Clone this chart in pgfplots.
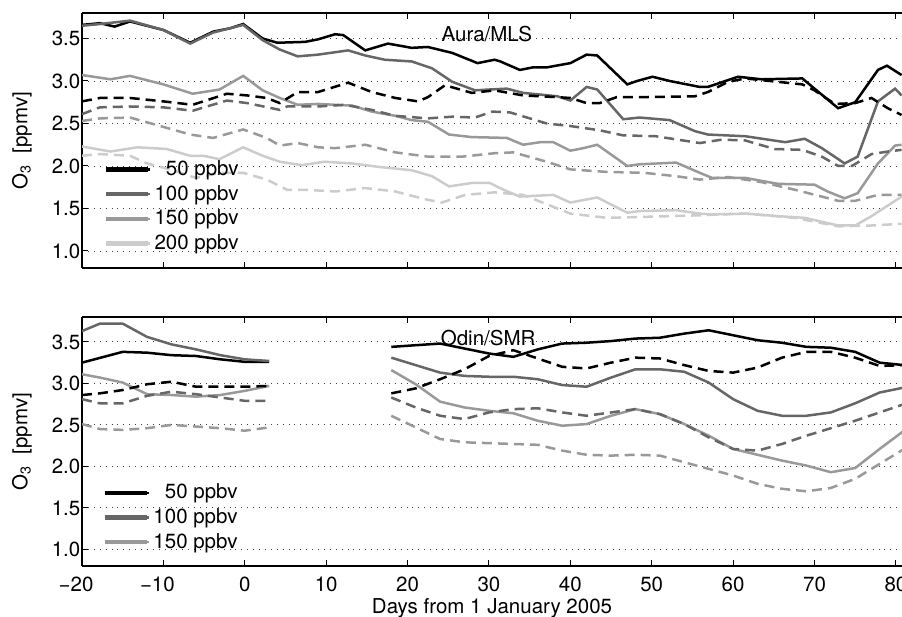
\documentclass[border=0pt]{standalone}
\usepackage{pgfplots}
\pgfplotsset{compat=1.18}
\usepackage{fontspec}
\setmainfont{TeX Gyre Heros}
\definecolor{gA}{gray}{0.4}
\definecolor{gB}{gray}{0.6}
\definecolor{gC}{gray}{0.8}
\newcommand{\ff}{\fontsize{20.5pt}{24pt}\selectfont}
\begin{document}
\ff
\begin{tikzpicture}[font=\ff]
\useasboundingbox (0,0) rectangle (902pt,617pt);
\pgfplotsset{
  panel/.style={
    scale only axis, width=820pt,
    xmin=-20, xmax=80.75, ymin=0.8, ymax=3.8,
    axis x line*=box, axis y line*=left,
    axis line style={line width=1.2pt},
    tick align=inside, major tick length=6pt,
    tick style={line width=1pt, black},
    xtick={-20,-10,...,80},
    ytick={1,1.5,2,2.5,3,3.5},
    yticklabels={\ff 1.0,\ff 1.5,\ff 2.0,\ff 2.5,\ff 3.0,\ff 3.5},
    ymajorgrids, grid style={black!75, line width=0.9pt, dash pattern=on 0.9pt off 5pt},
    every tick label/.style={font=\ff},
    yticklabel style={inner sep=0pt, xshift=-1.5pt},
    xticklabel style={inner sep=0pt, yshift=-11pt},
    every axis y label/.style={at={(axis description cs:0,0.5)}, xshift=-60pt, rotate=90, anchor=center, font=\ff},
    every axis x label/.style={at={(axis description cs:0.5,0)}, anchor=north, yshift=-25pt, font=\ff},
    legend image code/.code={\draw[##1] (0pt,0pt) -- (43pt,0pt); \path[use as bounding box] (0pt,-1pt) rectangle (40pt,1pt);},
    legend cell align=left,
    legend style={draw=none, fill=none, anchor=north west, inner sep=0pt, nodes={inner sep=3.3pt, font=\ff}, row sep=0pt, font=\ff},
    every axis plot/.append style={line width=2.5pt},
  },
  d/.style={dash pattern=on 10pt off 6pt},
}
% ---------------- top panel: Aura/MLS ----------------
\begin{axis}[panel, at={(82pt,349pt)}, anchor=south west, height=255pt,
  xticklabels={}, ylabel={O\textsubscript{3}\ \ [ppmv]},
  legend style={at={(axis description cs:0.0287,0.435)}}]
\addplot[black] coordinates {(-20,3.66) (-17.8,3.68) (-16,3.64) (-14.1,3.70) (-10,3.60) (-6.7,3.45) (-3.9,3.58) (-1.8,3.62) (-0.2,3.67) (2.2,3.50) (4,3.45) (7.4,3.46) (9,3.49) (11.1,3.55) (12.1,3.54) (14.8,3.36) (17.6,3.44) (20.5,3.39) (22.5,3.40) (25.5,3.33) (28.6,3.21) (30.7,3.25) (31.4,3.23) (33.8,3.13) (35.4,3.16) (37.1,3.16) (40,3.21) (42,3.31) (43.3,3.30) (47,2.96) (48.2,3.00) (50.1,3.05) (52.2,3.00) (55.9,2.93) (56.9,2.93) (60.6,3.05) (63.5,3.02) (68.5,3.03) (70,2.91) (72.9,2.68) (75,2.75) (77.8,3.13) (78.9,3.18) (80.7,3.07)};
\addlegendentry{\ff\phantom{1}50 ppbv}
\addplot[gA] coordinates {(-20,3.65) (-17.8,3.67) (-14.1,3.71) (-10,3.60) (-6.7,3.44) (-3.9,3.57) (-0.2,3.66) (2.2,3.48) (4.3,3.37) (6.5,3.29) (9,3.31) (12.7,3.36) (14.8,3.30) (17.2,3.25) (20.5,3.23) (23,3.15) (25.5,2.99) (28.3,2.89) (30.1,2.90) (32.2,2.91) (34.2,2.86) (38.4,2.82) (40,2.77) (42,2.93) (43.3,2.90) (46.5,2.55) (48.5,2.57) (52.2,2.54) (55.3,2.41) (56.9,2.37) (61.5,2.35) (66.4,2.28) (68.8,2.32) (70.9,2.21) (73.7,2.03) (75.3,2.11) (77.8,2.76) (79.9,2.91) (80.7,2.83)};
\addlegendentry{\ff 100 ppbv}
\addplot[gB] coordinates {(-20,3.07) (-16.5,3.02) (-14.1,3.06) (-10,2.96) (-6.4,2.85) (-3.1,2.90) (-0.2,3.06) (2.2,2.89) (4.3,2.80) (6.5,2.72) (9,2.73) (13.2,2.71) (15.6,2.64) (18.5,2.59) (20.5,2.54) (22.5,2.52) (25.1,2.37) (27.9,2.34) (32.2,2.33) (34.2,2.25) (36.3,2.28) (37.9,2.28) (40,2.18) (41.6,2.21) (43.3,2.25) (47,2.00) (48.5,2.02) (53,2.04) (55.9,1.92) (57.4,1.86) (61.5,1.86) (65.5,1.79) (70,1.78) (71.6,1.70) (73.7,1.62) (75.3,1.68) (77.8,2.03) (79.9,2.24) (80.7,2.25)};
\addlegendentry{\ff 150 ppbv}
\addplot[gC] coordinates {(-20,2.23) (-16.5,2.17) (-13.2,2.22) (-9.6,2.20) (-6.7,2.12) (-5.1,2.12) (-3.1,2.08) (-0.2,2.22) (2.2,2.12) (4.3,2.05) (7,2.01) (9.8,2.05) (13.2,2.03) (16.4,1.99) (20.5,1.95) (23,1.88) (25.1,1.76) (27.9,1.80) (30.1,1.80) (31.8,1.72) (33.8,1.64) (37.9,1.66) (40,1.57) (43.3,1.63) (47,1.45) (48.5,1.47) (53,1.48) (55.9,1.44) (57.4,1.43) (61.5,1.44) (65.5,1.41) (68.8,1.39) (72.9,1.30) (75,1.30) (77,1.41) (80.7,1.64)};
\addlegendentry{\ff 200 ppbv}
\addplot[black, d, forget plot] coordinates {(-20,2.76) (-17.8,2.80) (-14.1,2.80) (-10,2.76) (-6.4,2.72) (-2.2,2.85) (0.3,2.83) (2.7,2.80) (4.3,2.74) (6.5,2.87) (9,2.87) (12.7,2.98) (15.6,2.87) (18.5,2.80) (21.3,2.76) (22.5,2.81) (24.6,2.95) (27.9,2.86) (30.7,2.89) (34.2,2.83) (38.4,2.81) (40,2.80) (42,2.74) (43.6,2.74) (45.7,2.81) (48.5,2.81) (55.3,2.82) (56.9,2.87) (59.4,2.99) (61.5,3.03) (65.5,2.99) (68.5,2.96) (70,2.89) (72.5,2.73) (75,2.74) (77,2.80) (79,2.68) (80.7,2.60)};
\addplot[gA, d, forget plot] coordinates {(-20,2.61) (-17.8,2.69) (-14.1,2.70) (-10,2.69) (-6.4,2.65) (-2.2,2.77) (0.3,2.74) (4.3,2.66) (5.2,2.70) (9,2.70) (12.3,2.72) (15.6,2.66) (18.5,2.59) (22.5,2.56) (25.5,2.58) (28.3,2.57) (30.4,2.64) (32.6,2.63) (37.1,2.50) (40,2.47) (43.6,2.42) (46.5,2.36) (50.5,2.35) (55.9,2.27) (58.6,2.31) (61.5,2.30) (65.1,2.20) (68.5,2.19) (70.9,2.11) (72.9,2.00) (74.6,2.00) (77,2.14) (79,2.17) (80.7,2.19)};
\addplot[gB, d, forget plot] coordinates {(-20,2.53) (-17.8,2.56) (-14.1,2.57) (-10,2.46) (-6.7,2.37) (-3.9,2.33) (-0.2,2.43) (2.7,2.33) (4.3,2.24) (6.5,2.27) (9,2.22) (11.1,2.21) (14.8,2.25) (18.5,2.16) (22.5,2.11) (26.7,2.11) (30.7,2.15) (33,2.16) (37.1,2.05) (40,1.96) (44.5,1.93) (49,1.92) (53,1.88) (55.9,1.84) (59.4,1.87) (63.5,1.81) (67.6,1.72) (70.9,1.64) (72.9,1.59) (75,1.59) (77.8,1.66) (80.7,1.66)};
\addplot[gC, d, forget plot] coordinates {(-20,2.12) (-17.8,2.14) (-14.1,2.12) (-12,2.03) (-9.2,1.96) (-6,1.86) (-3.1,1.92) (-0.2,1.92) (2.7,1.84) (5.2,1.72) (7.4,1.72) (11.1,1.70) (14.8,1.74) (18.5,1.70) (22.1,1.61) (24.2,1.57) (27.1,1.66) (30.7,1.69) (34.2,1.66) (40,1.44) (44.5,1.39) (48.5,1.40) (55.9,1.42) (61.5,1.44) (67.6,1.39) (72.9,1.29) (77,1.30) (80.7,1.32)};
\node[anchor=base, font=\ff] at (axis cs:29.75,3.46) {Aura/MLS};
\end{axis}
% ---------------- bottom panel: Odin/SMR ----------------
\begin{axis}[panel, at={(82pt,51pt)}, anchor=south west, height=249pt,
  xticklabels={\ff\llap{−}20,\ff\llap{−}10,\ff 0,\ff 10,\ff 20,\ff 30,\ff 40,\ff 50,\ff 60,\ff 70,\ff 80},
  xlabel={Days from 1 January 2005},
  ylabel={O\textsubscript{3}\ \ [ppmv]},
  legend style={at={(axis description cs:0.0274,0.344)}}]
\addplot[black] coordinates {(-20,3.25) (-15,3.38) (-12,3.37) (-9,3.34) (-6,3.33) (-3,3.29) (0,3.26) (3,3.26)};
\addlegendentry{\ff\phantom{1}50 ppbv}
\addplot[gA] coordinates {(-20,3.63) (-17.8,3.72) (-15,3.72) (-12,3.56) (-9,3.47) (-6,3.41) (-3,3.34) (0,3.29) (3,3.27)};
\addlegendentry{\ff 100 ppbv}
\addplot[gB] coordinates {(-20,3.11) (-17.8,3.07) (-15,3.01) (-12,2.87) (-9,2.86) (-6,2.84) (-3,2.86) (0,2.91) (3,2.97)};
\addlegendentry{\ff 150 ppbv}
\addplot[black, forget plot] coordinates {(18,3.44) (21,3.46) (24,3.48) (27,3.42) (30,3.36) (33,3.32) (36,3.41) (39,3.48) (42,3.49) (45,3.51) (48,3.54) (51,3.55) (54,3.60) (57,3.64) (60,3.58) (63,3.52) (66,3.49) (69,3.44) (72,3.43) (75,3.38) (78,3.25) (81,3.22)};
\addplot[gA, forget plot] coordinates {(18,3.31) (21,3.22) (24,3.13) (27,3.09) (30,3.08) (33,3.08) (36,3.05) (39,2.98) (42,2.96) (45,3.07) (48,3.17) (51,3.17) (54,3.14) (57,3.01) (60,2.81) (63,2.67) (66,2.61) (69,2.61) (72,2.65) (75,2.76) (78,2.89) (81,2.95)};
\addplot[gB, forget plot] coordinates {(18,3.16) (21,2.99) (24,2.78) (27,2.71) (30,2.67) (33,2.64) (36,2.55) (39,2.49) (42,2.51) (45,2.61) (48,2.69) (51,2.63) (54,2.51) (57,2.37) (60,2.21) (63,2.14) (66,2.07) (69,2.01) (72,1.93) (75,1.98) (78,2.21) (81,2.43)};
\addplot[black, d, forget plot] coordinates {(-20,2.86) (-17.8,2.88) (-15,2.92) (-12,2.99) (-9,3.02) (-6,2.96) (-3,2.96) (0,2.96) (3,2.97)};
\addplot[gA, d, forget plot] coordinates {(-20,2.81) (-17.8,2.76) (-15,2.76) (-12,2.85) (-9,2.90) (-6,2.87) (-3,2.83) (0,2.79) (3,2.79)};
\addplot[gB, d, forget plot] coordinates {(-20,2.51) (-17.8,2.45) (-15,2.44) (-12,2.46) (-9,2.50) (-6,2.48) (-3,2.46) (0,2.43) (3,2.47)};
\addplot[black, d, forget plot] coordinates {(18,2.88) (21,2.94) (24,3.05) (27,3.17) (30,3.33) (33,3.40) (36,3.30) (39,3.20) (42,3.18) (45,3.25) (48,3.31) (51,3.30) (54,3.22) (57,3.15) (60,3.13) (63,3.19) (66,3.31) (69,3.38) (72,3.38) (75,3.31) (78,3.21) (81,3.22)};
\addplot[gA, d, forget plot] coordinates {(18,2.83) (21,2.71) (24,2.61) (27,2.57) (30,2.65) (33,2.69) (36,2.70) (39,2.65) (42,2.61) (45,2.65) (48,2.69) (51,2.63) (54,2.51) (57,2.35) (60,2.21) (63,2.19) (66,2.27) (69,2.37) (72,2.46) (75,2.55) (78,2.65) (81,2.75)};
\addplot[gB, d, forget plot] coordinates {(18,2.61) (21,2.47) (24,2.33) (27,2.29) (30,2.28) (33,2.27) (36,2.26) (39,2.19) (42,2.14) (45,2.13) (48,2.14) (51,2.13) (54,2.05) (57,1.97) (60,1.89) (63,1.79) (66,1.73) (69,1.70) (72,1.74) (75,1.85) (78,2.03) (81,2.21)};
\node[anchor=base, font=\ff] at (axis cs:29.9,3.46) {Odin/SMR};
\end{axis}
\end{tikzpicture}
\end{document}
